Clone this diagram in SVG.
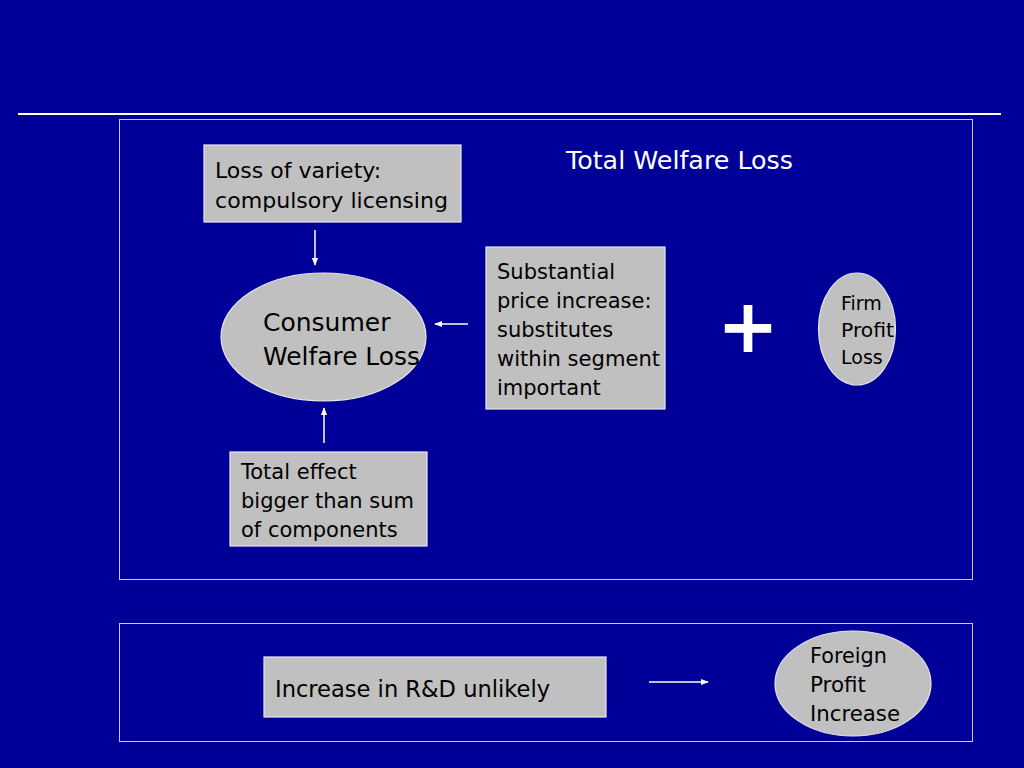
<svg xmlns="http://www.w3.org/2000/svg" width="1024" height="768" viewBox="0 0 1024 768">
<defs>
<style>
.bg{fill:#000099}
.frame{fill:none;stroke:#c8c8ff;stroke-width:1}
.box{fill:#c0c0c0;stroke:#e6e6f0;stroke-width:1.2}
.t{font-family:"DejaVu Sans",Verdana,sans-serif;fill:#000000}
.w{font-family:"DejaVu Sans",Verdana,sans-serif;fill:#ffffff}
.c{stroke:#ffffff;stroke-width:1.5;fill:none}
</style>
<marker id="ah" viewBox="0 0 10 10" refX="9" refY="5" markerWidth="8" markerHeight="8" orient="auto" markerUnits="userSpaceOnUse">
<path d="M0,1 L10,5 L0,9 z" fill="#ffffff"/>
</marker>
</defs>
<rect class="bg" x="0" y="0" width="1024" height="768"/>
<line x1="18" y1="114" x2="1001" y2="114" stroke="#ffffff" stroke-width="2"/>
<rect class="frame" x="119.5" y="119.5" width="853" height="460"/>
<rect class="frame" x="119.5" y="623.5" width="853" height="118"/>
<text class="w" x="566" y="169" font-size="25" textLength="227" lengthAdjust="spacingAndGlyphs">Total Welfare Loss</text>
<g id="loss-variety">
<rect class="box" x="204" y="145" width="257" height="77"/>
<text class="t" font-size="22" x="215" y="178">Loss of variety:</text>
<text class="t" font-size="22" x="215" y="208" textLength="233" lengthAdjust="spacingAndGlyphs">compulsory licensing</text>
</g>
<g id="consumer">
<ellipse class="box" cx="323.5" cy="337" rx="102.5" ry="64"/>
<text class="t" font-size="25" x="263" y="331">Consumer</text>
<text class="t" font-size="25" x="263" y="365" textLength="157" lengthAdjust="spacingAndGlyphs">Welfare Loss</text>
</g>
<g id="price">
<rect class="box" x="486" y="247" width="179" height="162"/>
<text class="t" font-size="21" x="497" y="279">Substantial</text>
<text class="t" font-size="21" x="497" y="308">price increase:</text>
<text class="t" font-size="21" x="497" y="337">substitutes</text>
<text class="t" font-size="21" x="497" y="366" textLength="163" lengthAdjust="spacingAndGlyphs">within segment</text>
<text class="t" font-size="21" x="497" y="395">important</text>
</g>
<g id="plus">
<text class="w" x="748" y="352" font-size="74" font-weight="bold" text-anchor="middle">+</text>
</g>
<g id="firm">
<ellipse class="box" cx="857" cy="329" rx="38.5" ry="56"/>
<text class="t" font-size="19" x="841" y="310">Firm</text>
<text class="t" font-size="19" x="841" y="337" textLength="53" lengthAdjust="spacingAndGlyphs">Profit</text>
<text class="t" font-size="19" x="841" y="364">Loss</text>
</g>
<g id="total-effect">
<rect class="box" x="230" y="452" width="197" height="94"/>
<text class="t" font-size="21" x="241" y="479">Total effect</text>
<text class="t" font-size="21" x="241" y="508" textLength="173" lengthAdjust="spacingAndGlyphs">bigger than sum</text>
<text class="t" font-size="21" x="241" y="537">of components</text>
</g>
<g id="rd">
<rect class="box" x="264" y="657" width="342" height="60"/>
<text class="t" font-size="23" x="275" y="697" textLength="275" lengthAdjust="spacingAndGlyphs">Increase in R&amp;D unlikely</text>
</g>
<g id="foreign">
<ellipse class="box" cx="853" cy="683.5" rx="78" ry="52.5"/>
<text class="t" font-size="22" x="810" y="663" textLength="77" lengthAdjust="spacingAndGlyphs">Foreign</text>
<text class="t" font-size="22" x="810" y="692" textLength="56" lengthAdjust="spacingAndGlyphs">Profit</text>
<text class="t" font-size="22" x="810" y="721" textLength="90" lengthAdjust="spacingAndGlyphs">Increase</text>
</g>
<g id="connectors">
<line class="c" x1="315" y1="230" x2="315" y2="265" marker-end="url(#ah)"/>
<line class="c" x1="468" y1="324" x2="435" y2="324" marker-end="url(#ah)"/>
<line class="c" x1="324" y1="443" x2="324" y2="408" marker-end="url(#ah)"/>
<line class="c" x1="649" y1="682" x2="708" y2="682" marker-end="url(#ah)"/>
</g>
</svg>
